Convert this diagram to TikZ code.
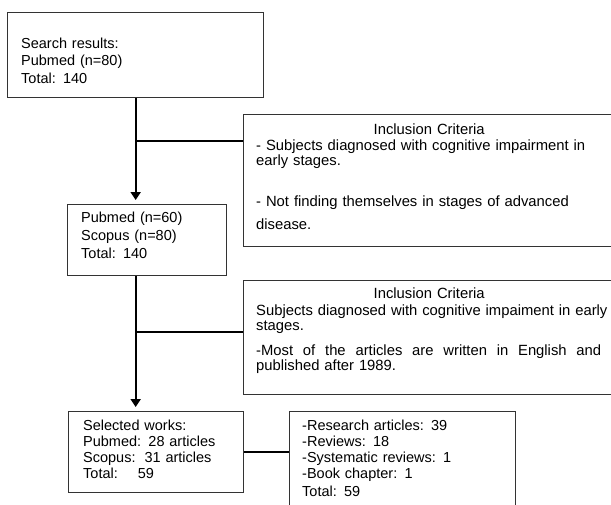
\documentclass[tikz,border=0pt]{standalone}
\usepackage{fontspec}
\setmainfont{Liberation Sans}
\usetikzlibrary{arrows.meta}

\begin{document}
\begin{tikzpicture}[x=1pt,y=-1pt,
    frame/.style={draw=black!80, line width=1.3pt, anchor=north west, inner sep=0pt},
    txt/.style={anchor=base west, inner sep=0pt, align=left, text width=#1},
    txt/.default=220pt,
    crit/.style={txt=346pt, font=\fontsize{14.8}{15.5}\selectfont},
    link/.style={line width=2.2pt},
    flow/.style={link, -{Triangle[width=10pt,length=8pt]}, shorten >=4pt}]
  \useasboundingbox (0,0) rectangle (611,504);
  \clip (0,0) rectangle (611,504);
  % boxes
  \node[frame, minimum width=256, minimum height=85] (search) at (7,12) {};
  \node[frame, minimum width=377, minimum height=132] (incl1) at (243,114) {};
  \node[frame, minimum width=159, minimum height=71] (pooled) at (67,204) {};
  \node[frame, minimum width=377, minimum height=114] (incl2) at (243,280) {};
  \node[frame, minimum width=175, minimum height=81] (selected) at (68,411) {};
  \node[frame, minimum width=226, minimum height=100] (types) at (289,411) {};
  % texts
  \node[txt, font=\fontsize{14.5}{17.5}\selectfont] (searchtxt) at (21,48)
    {Search results:\\Pubmed (n=80)\\Total: 140};
  \node[crit] (incl1txt) at (256,134.3)
    {\makebox[\linewidth]{Inclusion Criteria}\\[1pt]
     \mbox{- Subjects diagnosed with cognitive impairment in}\\[-1pt]
     early stages.\\[26pt]
     \mbox{- Not finding themselves in stages of advanced}\\[7pt]
     disease.};
  \node[txt, font=\fontsize{14.5}{18}\selectfont] (pooledtxt) at (81,222.7)
    {Pubmed (n=60)\\Scopus (n=80)\\Total: 140};
  \node[crit] (incl2txt) at (256,298.3)
    {\makebox[\linewidth]{Inclusion Criteria}\\[2pt]
     \mbox{Subjects diagnosed with cognitive impaiment in early}\\[-1pt]
     stages.\\[10pt]
     \makebox[345pt][l]{-Most\hfill of\hfill the\hfill articles\hfill are\hfill
       written\hfill in\hfill English\hfill and}\\[-1pt]
     published after 1989.};
  \node[txt, font=\fontsize{14.5}{15.8}\selectfont] (selectedtxt) at (83,430.7)
    {Selected works:\\Pubmed: 28 articles\\Scopus:\hspace{9pt}31 articles\\Total:\hspace{20pt}59};
  \node[txt, font=\fontsize{14.5}{16.2}\selectfont] (typestxt) at (302,430)
    {-Research articles: 39\\-Reviews: 18\\-Systematic reviews: 1\\-Book chapter: 1\\[2pt]Total: 59};
  % connectors
  \coordinate (fork1) at (135,141);
  \coordinate (fork2) at (135,332);
  \draw[flow] (search.south) -- (search.south |- pooled.north);
  \draw[link] (fork1) -- (fork1 -| incl1.west);
  \draw[flow] (search.south |- pooled.south) -- (search.south |- selected.north);
  \draw[link] (fork2) -- (fork2 -| incl2.west);
  \draw[link] (selected.east) -- (selected.east -| types.west);
\end{tikzpicture}
\end{document}
